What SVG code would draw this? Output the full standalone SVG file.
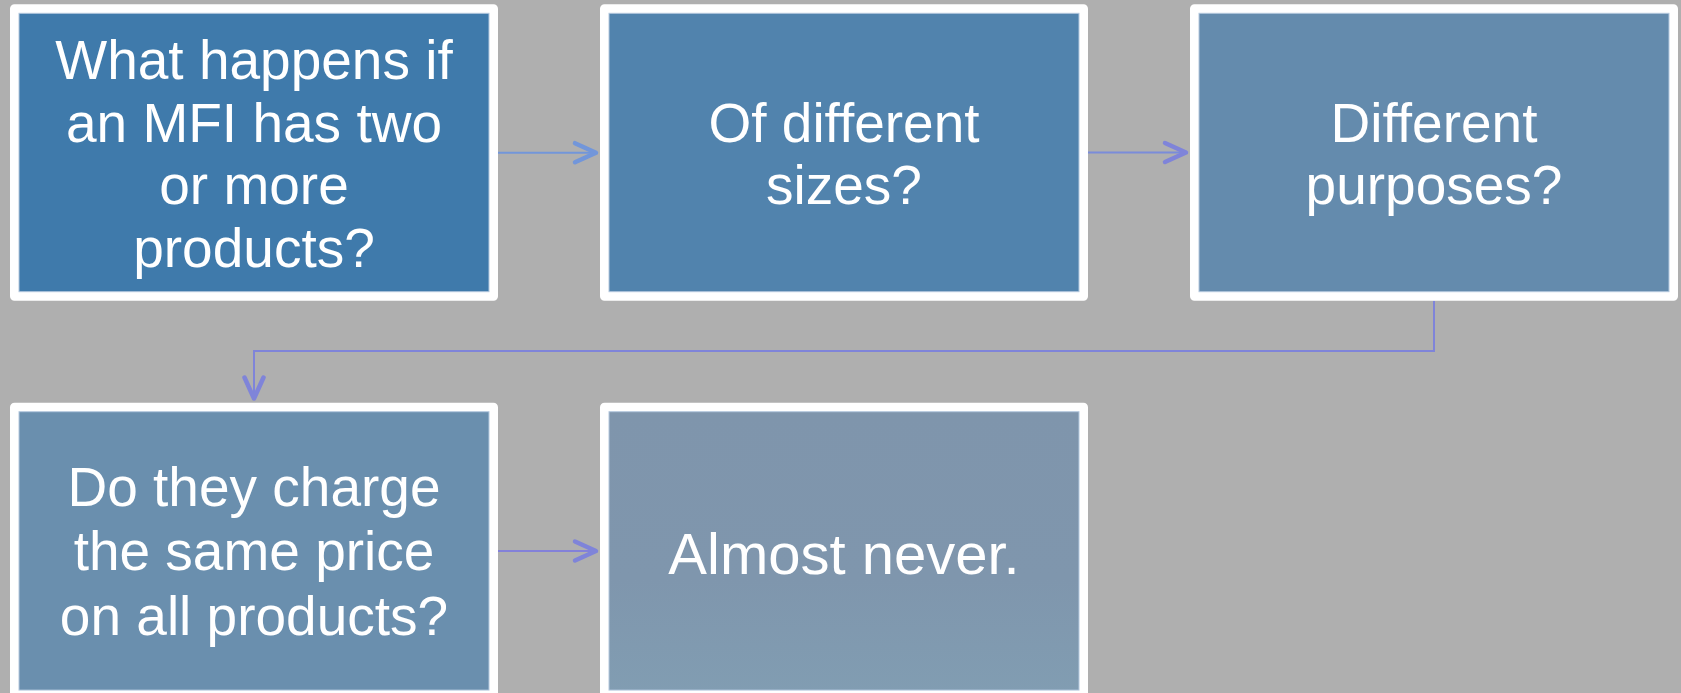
<svg xmlns="http://www.w3.org/2000/svg" width="1681" height="693" viewBox="0 0 1681 693">
  <style>
    .frame { stroke: #ffffff; stroke-width: 9; stroke-linejoin: round; }
    .inner { fill: none; stroke: #b4c8de; stroke-width: 1; }
    .lbl { font-family: "Liberation Sans", Arial, sans-serif; font-size: 55px; fill: #ffffff; text-anchor: middle; }
    .conn { fill: none; stroke-width: 2; }
  </style>
  <defs>
    <linearGradient id="g5" x1="0" y1="0" x2="0" y2="1">
      <stop offset="0" stop-color="#7f95ac"/>
      <stop offset="0.6" stop-color="#7f96ad"/>
      <stop offset="1" stop-color="#819db2"/>
    </linearGradient>
    <marker id="ahBlue" markerUnits="userSpaceOnUse" markerWidth="30" markerHeight="30" viewBox="-26 -14 30 28" refX="0" refY="0" orient="auto">
      <path d="M -21 -9.5 L 0 0 L -21 9.5" fill="none" stroke="#7296da" stroke-width="4.5" stroke-linecap="round" stroke-linejoin="round"/>
    </marker>
    <marker id="ahPurple" markerUnits="userSpaceOnUse" markerWidth="30" markerHeight="30" viewBox="-26 -14 30 28" refX="0" refY="0" orient="auto">
      <path d="M -21 -9.5 L 0 0 L -21 9.5" fill="none" stroke="#7f84d9" stroke-width="4.5" stroke-linecap="round" stroke-linejoin="round"/>
    </marker>
  </defs>

  <rect x="0" y="0" width="1681" height="693" fill="#afafaf"/>

  <g id="connectors">
    <path class="conn" d="M 498 152.7 L 596 152.7" stroke="#7296da" marker-end="url(#ahBlue)"/>
    <path class="conn" d="M 1088 152.5 L 1186 152.5" stroke="#7a8cda" marker-end="url(#ahPurple)"/>
    <path class="conn" d="M 1434 300.7 L 1434 351 L 254 351 L 254 398.5" stroke="#7f84d9" marker-end="url(#ahPurple)"/>
    <path class="conn" d="M 498 551 L 596 551" stroke="#8381d9" marker-end="url(#ahPurple)"/>
  </g>

  <g id="node1">
    <rect class="frame" x="14.5" y="8.8" width="479" height="287.4" fill="#3f7aab"/>
    <rect class="inner" x="19" y="13.3" width="470" height="278.4"/>
    <text class="lbl" x="254" y="79">What happens if</text>
    <text class="lbl" x="254" y="141.5">an MFI has two</text>
    <text class="lbl" x="254" y="204">or more</text>
    <text class="lbl" x="254" y="266.5">products?</text>
  </g>

  <g id="node2">
    <rect class="frame" x="604.5" y="8.8" width="479" height="287.4" fill="#5183ad"/>
    <rect class="inner" x="609" y="13.3" width="470" height="278.4"/>
    <text class="lbl" x="844" y="141.5">Of different</text>
    <text class="lbl" x="844" y="204">sizes?</text>
  </g>

  <g id="node3">
    <rect class="frame" x="1194.5" y="8.8" width="479" height="287.4" fill="#648bad"/>
    <rect class="inner" x="1199" y="13.3" width="470" height="278.4"/>
    <text class="lbl" x="1434" y="141.7">Different</text>
    <text class="lbl" x="1434" y="204">purposes?</text>
  </g>

  <g id="node4">
    <rect class="frame" x="14.5" y="407.2" width="479" height="287.4" fill="#6a8fae"/>
    <rect class="inner" x="19" y="411.7" width="470" height="278.4"/>
    <text class="lbl" x="254" y="506">Do they charge</text>
    <text class="lbl" x="254" y="570">the same price</text>
    <text class="lbl" x="254" y="635">on all products?</text>
  </g>

  <g id="node5">
    <rect class="frame" x="604.5" y="407.2" width="479" height="287.4" fill="url(#g5)"/>
    <rect class="inner" x="609" y="411.7" width="470" height="278.4"/>
    <text class="lbl" x="844" y="573.5" style="font-size:58px">Almost never.</text>
  </g>
</svg>
